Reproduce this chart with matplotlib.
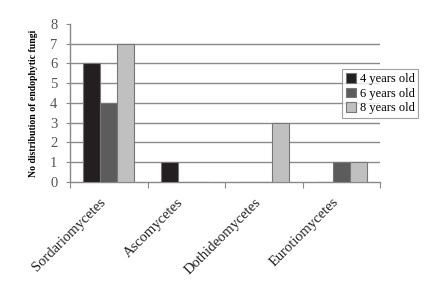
import numpy as np
import matplotlib
matplotlib.use("Agg")
import matplotlib.pyplot as plt

# Data
categories = ["Sordariomycetes", "Ascomycetes", "Dothideomycetes", "Eurotiomycetes"]
series = ["4 years old", "6 years old", "8 years old"]
age4 = [6, 1, 0, 0]
age6 = [4, 0, 0, 1]
age8 = [7, 0, 3, 1]

plt.rcParams['font.family'] = ['Liberation Serif', 'DejaVu Serif']

fig = plt.figure(figsize=(4.32, 2.86), dpi=100)
ax = fig.add_axes([0.162, 0.364, 0.718, 0.552])

x = np.arange(len(categories))
w = 0.22
colors = ["#231f20", "#5c5c5c", "#c0c0c0"]
for i, (vals, lab, c) in enumerate(zip([age4, age6, age8], series, colors)):
    ax.bar(x + (i - 1) * w, vals, w, color=c, edgecolor="#777777",
           linewidth=0.8, label=lab, zorder=3)

ax.set_xlim(-0.5, len(categories) - 0.5)
ax.set_ylim(0, 8)
ax.set_yticks(range(0, 9))
for yv in range(1, 8):
    ax.axhline(yv, color="#8a8a8a", linewidth=1.0, zorder=1)

ax.set_xticks(np.arange(-0.5, len(categories), 1.0))
ax.set_xticklabels([])
ax.tick_params(axis="x", length=4, color="#888888", direction="out")
ax.tick_params(axis="y", length=3, color="#888888", labelsize=10.5,
               labelcolor="#555555", pad=6)
for i, cat in enumerate(categories):
    ax.text(i - 0.12, -0.7, cat, rotation=45, ha="right", va="top",
            fontsize=10.5, color="#222222", rotation_mode="anchor")

for s in ["top", "right"]:
    ax.spines[s].set_visible(False)
for s in ["left", "bottom"]:
    ax.spines[s].set_color("#888888")
    ax.spines[s].set_linewidth(1.0)

ax.set_ylabel("No distribution of endophytic fungi", fontsize=7,
              fontweight="bold", labelpad=9)

leg = fig.legend(loc="upper left", bbox_to_anchor=(0.792, 0.758),
                 fontsize=9, frameon=True, fancybox=False,
                 handlelength=0.8, handleheight=0.8, handletextpad=0.3,
                 borderpad=0.3, labelspacing=0.2, borderaxespad=0)
leg.get_frame().set_edgecolor("#888888")
leg.get_frame().set_linewidth(0.8)

fig.savefig("out.png", dpi=100)
